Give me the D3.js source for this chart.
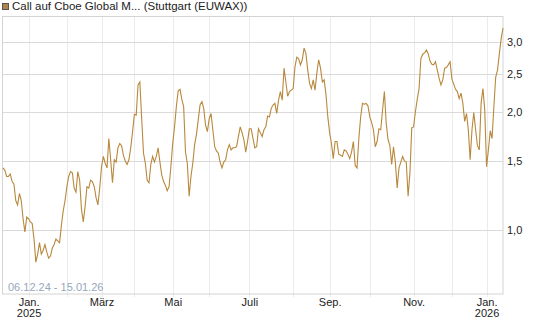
<!DOCTYPE html>
<html>
<head>
<meta charset="utf-8">
<script src="https://cdn.jsdelivr.net/npm/d3@7"></script>
<style>
body { margin: 0; background: #fff; }
svg { font-family: "Liberation Sans", Arial, sans-serif; }
</style>
</head>
<body>
<div id="chart"></div>
<script>
// Kurse je Monat (ein Wert pro Handelstag)
const dec24 = [1.44, 1.42, 1.37, 1.37, 1.39, 1.33, 1.31, 1.19, 1.16, 1.24, 1.19, 1.07, 0.99, 1.08];
const jan25 = [1.07, 1.05, 1.04, 0.95, 0.83, 0.87, 0.93, 0.87, 0.89, 0.92, 0.88, 0.85, 0.86, 0.90, 0.92, 0.95, 0.94, 0.93, 1.03, 1.12, 1.19];
const feb25 = [1.29, 1.37, 1.41, 1.40, 1.28, 1.25, 1.41, 1.34, 1.13, 1.05, 1.15, 1.29, 1.28, 1.34, 1.33, 1.29, 1.21, 1.16, 1.28];
const mar25 = [1.45, 1.54, 1.48, 1.44, 1.71, 1.51, 1.32, 1.51, 1.49, 1.62, 1.66, 1.64, 1.55, 1.50, 1.47, 1.51, 1.62, 1.78];
const apr25 = [1.97, 1.96, 2.34, 2.38, 1.92, 1.57, 1.48, 1.34, 1.32, 1.47, 1.54, 1.49, 1.54, 1.62, 1.49, 1.38, 1.33, 1.30, 1.26, 1.29, 1.45];
const may25 = [1.66, 1.83, 2.06, 2.26, 2.28, 2.15, 2.06, 1.58, 1.48, 1.22, 1.37, 1.48, 1.65, 1.75, 1.91, 2.08, 2.12, 2.04, 1.85, 1.78];
const jun25 = [1.92, 1.98, 1.80, 1.63, 1.59, 1.57, 1.49, 1.44, 1.49, 1.51, 1.60, 1.65, 1.60, 1.62, 1.62, 1.63, 1.73, 1.83, 1.77, 1.70, 1.58, 1.68];
const jul25 = [1.81, 1.81, 1.71, 1.62, 1.63, 1.81, 1.77, 1.73, 1.80, 1.83, 1.95, 1.94, 2.04, 2.08, 2.10, 1.98, 2.14, 2.25, 2.14, 2.58, 2.38, 2.19, 2.25, 2.27];
const aug25 = [2.29, 2.60, 2.75, 2.73, 2.63, 2.71, 2.90, 2.81, 2.55, 2.36, 2.29, 2.41, 2.27, 2.51, 2.71, 2.58, 2.38, 2.41, 2.21, 1.94];
const sep25 = [1.77, 1.66, 1.52, 1.68, 1.68, 1.56, 1.55, 1.54, 1.60, 1.59, 1.56, 1.52, 1.58, 1.68, 1.46, 1.44, 1.71, 1.94, 2.10, 2.09, 2.10, 2.07];
const oct25 = [1.94, 1.88, 1.80, 1.63, 1.68, 1.81, 1.80, 2.02, 2.25, 1.87, 1.70, 1.64, 1.47, 1.63, 1.49, 1.28, 1.44, 1.49, 1.54, 1.50, 1.49, 1.22, 1.40, 1.82];
const nov25 = [1.83, 2.00, 2.15, 2.29, 2.73, 2.80, 2.82, 2.87, 2.81, 2.69, 2.64, 2.63, 2.68, 2.55, 2.43, 2.34, 2.41, 2.58, 2.59, 2.63, 2.68];
const dec25 = [2.42, 2.35, 2.28, 2.25, 2.16, 2.23, 2.10, 1.89, 1.98, 1.80, 1.51, 1.80, 1.99, 1.80, 1.64, 1.60, 2.10, 2.29, 2.02];
const jan26 = [1.45, 1.60, 1.79, 1.71, 2.06, 2.45, 2.55, 2.81, 3.07, 3.26];

// Beschriftungen der Monatsanfänge (Jan. 2025 bis Jan. 2026)
const monthLabels = [["Jan.", "2025"], [], ["März"], [], ["Mai"], [], ["Juli"], [], ["Sep."], [], ["Nov."], [], ["Jan.", "2026"]];
const yTicks = [1.0, 1.5, 2.0, 2.5, 3.0];
const title = "Call auf Cboe Global M... (Stuttgart (EUWAX))";
const rangeLabel = "06.12.24 - 15.01.26";

function chart() {
const width = 545, height = 327;
const plot = { left: 3, right: 503, top: 16.5, bottom: 294 };

const months = [dec24, jan25, feb25, mar25, apr25, may25, jun25, jul25, aug25, sep25, oct25, nov25, dec25, jan26];
const values = months.flat();
// Index des ersten Handelstags je Monat (ab Jan. 2025)
const starts = [];
let n = 0;
months.forEach((m, i) => { if (i > 0) starts.push(n); n += m.length; });

const svg = d3.select("#chart")
    .append("svg")
    .attr("width", width)
    .attr("height", height);

const x = d3.scaleLinear()
    .domain([0, values.length - 1])
    .range([plot.left, plot.right]);

const y = d3.scaleLog()
    .domain([0.689, 3.49])
    .range([plot.bottom, plot.top]);

// vertikale Gitterlinien
svg.append("g")
    .selectAll("line")
    .data(starts)
    .enter()
    .append("line")
    .attr("x1", d => Math.round(x(d)) + 0.5)
    .attr("x2", d => Math.round(x(d)) + 0.5)
    .attr("y1", plot.top)
    .attr("y2", plot.bottom + 3)
    .attr("stroke", "#ebebeb");

// horizontale Gitterlinien
svg.append("g")
    .selectAll("line")
    .data(yTicks)
    .enter()
    .append("line")
    .attr("x1", plot.left)
    .attr("x2", plot.right)
    .attr("y1", d => Math.round(y(d)) + 0.5)
    .attr("y2", d => Math.round(y(d)) + 0.5)
    .attr("stroke", "#dadada");

// Rahmen
svg.append("rect")
    .attr("x", plot.left - 0.5)
    .attr("y", plot.top)
    .attr("width", plot.right - plot.left + 0.5)
    .attr("height", plot.bottom - plot.top)
    .attr("fill", "none")
    .attr("stroke", "#d4d4d4");

// X-Achse
const xAxis = svg.append("g")
    .attr("transform", `translate(0,${plot.bottom})`)
    .call(d3.axisBottom(x).tickValues(starts).tickSize(0).tickPadding(4).tickFormat(""));
xAxis.select(".domain").remove();
xAxis.selectAll(".tick text")
    .attr("fill", "#222")
    .style("font-size", "11px")
    .each(function(d, i) {
        const t = d3.select(this);
        monthLabels[i].forEach((l, k) => {
            t.append("tspan")
                .attr("x", 0)
                .attr("dy", k ? "1.05em" : "0.71em")
                .text(l);
        });
    });

// Y-Achse rechts
const yAxis = svg.append("g")
    .attr("transform", `translate(${plot.right},0)`)
    .call(d3.axisRight(y).tickValues(yTicks).tickSize(0).tickPadding(4)
        .tickFormat(d => d3.format(".1f")(d).replace(".", ",")));
yAxis.select(".domain").remove();
yAxis.selectAll(".tick text")
    .attr("fill", "#222")
    .style("font-size", "11px");

// Kurslinie
svg.append("path")
    .datum(values)
    .attr("fill", "none")
    .attr("stroke", "#b8883c")
    .attr("stroke-width", 1.1)
    .attr("d", d3.line().x((d, i) => x(i)).y(d => y(d)));

// Zeitraum
svg.append("text")
    .attr("x", 8)
    .attr("y", 290.5)
    .attr("fill", "#97a7bb")
    .style("font-size", "11px")
    .text(rangeLabel);

// Legende
svg.append("rect")
    .attr("x", 2.5)
    .attr("y", 3.5)
    .attr("width", 6)
    .attr("height", 6)
    .attr("fill", "#b08447")
    .attr("stroke", "#555");

svg.append("text")
    .attr("x", 12)
    .attr("y", 10)
    .attr("fill", "#222")
    .style("font-size", "11.5px")
    .text(title);
};
chart();
</script>
</body>
</html>
